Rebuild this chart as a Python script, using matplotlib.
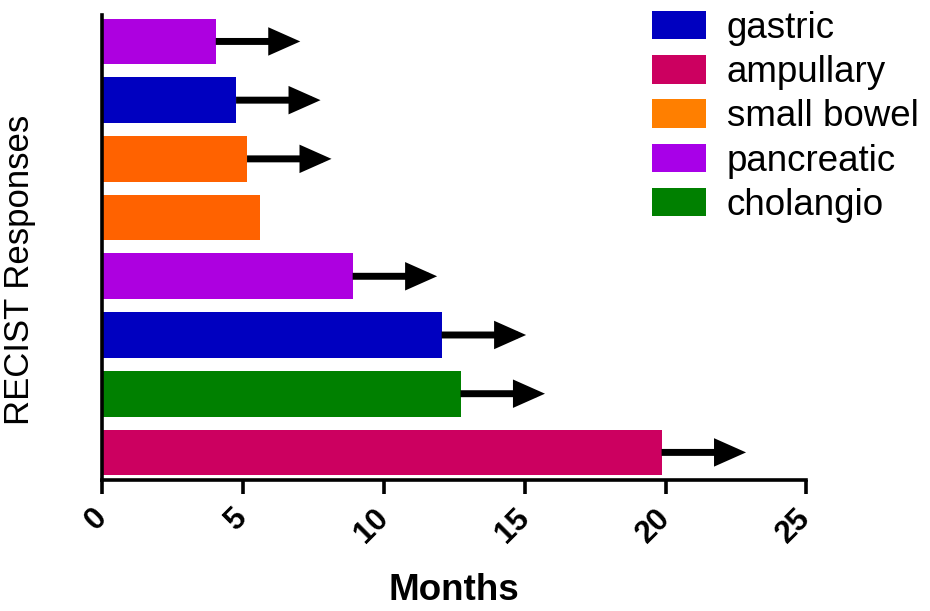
import matplotlib.pyplot as plt
from matplotlib.patches import Patch

plt.rcParams['font.family'] = ['Liberation Sans', 'DejaVu Sans']

# bars listed bottom to top
tumor = ["ampullary", "cholangio", "gastric", "pancreatic",
         "small bowel", "small bowel", "gastric", "pancreatic"]
months = [19.86, 12.72, 12.05, 8.89, 5.6, 5.14, 4.75, 4.03]
ongoing = [True, True, True, True, False, True, True, True]
arrow_len = 3.0

legend_order = ["gastric", "ampullary", "small bowel", "pancreatic", "cholangio"]
bar_colors = {"gastric": "#0000C0", "ampullary": "#CC0060", "small bowel": "#FF6200",
              "pancreatic": "#AD00E0", "cholangio": "#008000"}
legend_colors = {"gastric": "#0000C0", "ampullary": "#CC0060", "small bowel": "#FF7F00",
                 "pancreatic": "#A800E8", "cholangio": "#008000"}

fig = plt.figure(figsize=(9.3, 6.11), dpi=100)
ax = fig.add_axes([0.110, 0.2144, 0.757, 0.761])

ypos = list(range(len(months)))
ax.barh(ypos, months, height=0.78, color=[bar_colors[t] for t in tumor])

for y, m, on in zip(ypos, months, ongoing):
    if on:
        ax.annotate('', xy=(m + arrow_len, y), xytext=(m, y),
                    arrowprops=dict(arrowstyle='-|>,head_length=0.9,head_width=0.4',
                                    lw=5, color='black', mutation_scale=16,
                                    shrinkA=0, shrinkB=0, joinstyle='miter',
                                    capstyle='butt'))

ax.set_xlim(0, 25)
ax.set_ylim(-0.47, 7.45)
ax.set_xticks([0, 5, 10, 15, 20, 25])
ax.set_yticks([])
for s in ['top', 'right']:
    ax.spines[s].set_visible(False)
for s in ['left', 'bottom']:
    ax.spines[s].set_linewidth(2.6)
ax.tick_params(axis='x', length=10, width=2.6, pad=14)
for lbl in ax.get_xticklabels():
    lbl.set_rotation(45)
    lbl.set_ha('right')
    lbl.set_va('center')
    lbl.set_rotation_mode('anchor')
    lbl.set_fontsize(22.5)
    lbl.set_fontweight('bold')

ax.set_xlabel("Months", fontsize=26.5, fontweight='bold')
ax.xaxis.set_label_coords(0.5, -0.2)
fig.text(0.003, 1 - 270 / 611, "RECIST Responses", fontsize=25, rotation=90,
         ha='left', va='center')

handles = [Patch(facecolor=legend_colors[t], label=t) for t in legend_order]
fig.legend(handles=handles, loc='upper left', bbox_to_anchor=(652 / 930, 1 - 11 / 611),
           frameon=False, fontsize=26.5, handlelength=1.46, handleheight=0.81,
           handletextpad=0.57, labelspacing=0.25, borderpad=0, borderaxespad=0)

fig.savefig("out.png", dpi=100)
